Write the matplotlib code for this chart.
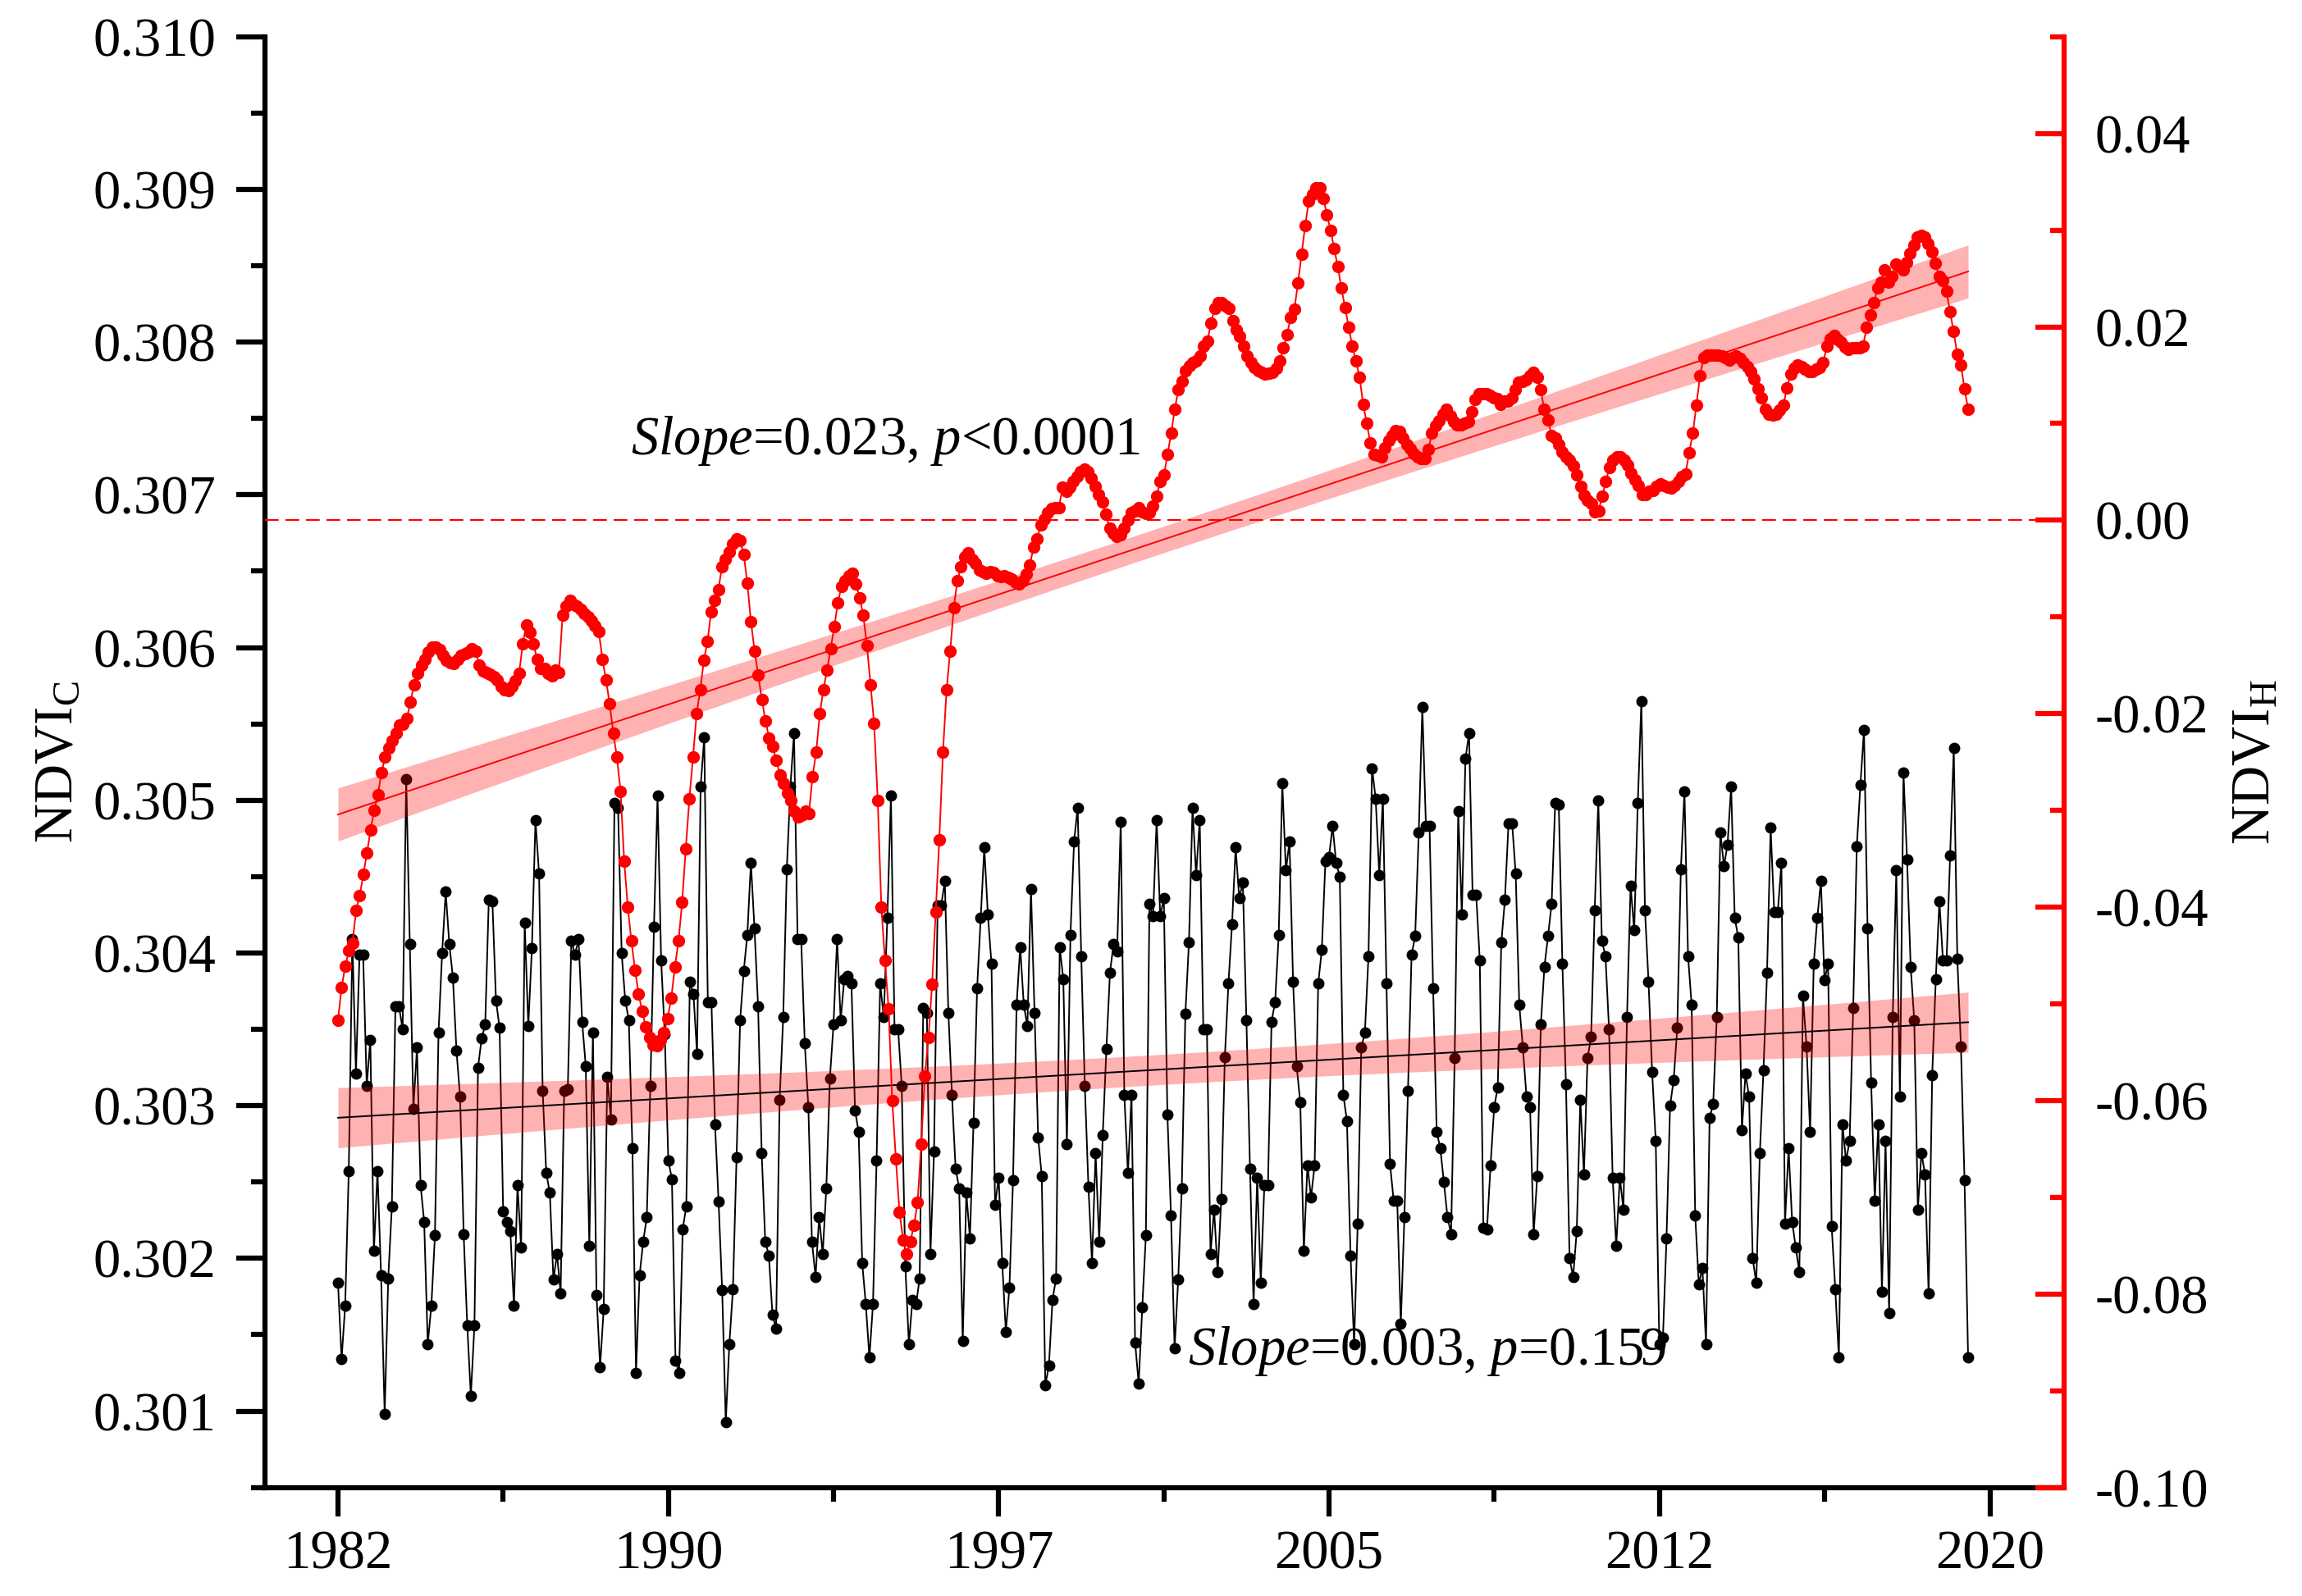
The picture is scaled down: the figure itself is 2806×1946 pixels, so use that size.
import numpy as np
import matplotlib
matplotlib.use("Agg")
import matplotlib.pyplot as plt

plt.rcParams["font.family"] = ["Liberation Serif", "DejaVu Serif"]
plt.rcParams["mathtext.fontset"] = "custom"
plt.rcParams["mathtext.rm"] = "Liberation Serif"
plt.rcParams["mathtext.it"] = "Liberation Serif:italic"
plt.rcParams["axes.unicode_minus"] = False

###  data

first_year, last_year = 1982.0, 2019.5

# NDVI_C, left axis (monthly, black)
ndvi_c = [
    0.30184, 0.30134, 0.30169, 0.30257, 0.30409, 0.30321, 0.30399, 0.30399, 0.30313, 0.30343, 0.30205, 0.30257,
    0.30189, 0.30098, 0.30187, 0.30234, 0.30365, 0.30365, 0.30350, 0.30514, 0.30406, 0.30298, 0.30338, 0.30248,
    0.30224, 0.30144, 0.30169, 0.30215, 0.30348, 0.30400, 0.30440, 0.30406, 0.30384, 0.30336, 0.30306, 0.30216,
    0.30156, 0.30110, 0.30156, 0.30325, 0.30344, 0.30353, 0.30435, 0.30434, 0.30369, 0.30351, 0.30231, 0.30224,
    0.30218, 0.30169, 0.30248, 0.30207, 0.30420, 0.30352, 0.30403, 0.30487, 0.30452, 0.30310, 0.30256, 0.30243,
    0.30186, 0.30203, 0.30177, 0.30310, 0.30311, 0.30408, 0.30399, 0.30409, 0.30355, 0.30326, 0.30208, 0.30348,
    0.30176, 0.30129, 0.30167, 0.30319, 0.30291, 0.30498, 0.30495, 0.30400,
    0.30369, 0.30356, 0.30272, 0.30125, 0.30189, 0.30211, 0.30227, 0.30313, 0.30417, 0.30503, 0.30395, 0.30347,
    0.30264, 0.30252, 0.30133, 0.30125, 0.30219, 0.30234, 0.30381, 0.30373, 0.30334, 0.30509, 0.30541, 0.30368,
    0.30368, 0.30288, 0.30237, 0.30179, 0.30093, 0.30144, 0.30180, 0.30266, 0.30356, 0.30388, 0.30412, 0.30459,
    0.30416, 0.30365, 0.30269, 0.30211, 0.30202, 0.30163, 0.30154, 0.30304, 0.30358, 0.30455, 0.30509, 0.30544,
    0.30409, 0.30409, 0.30341, 0.30299, 0.30211, 0.30188, 0.30227, 0.30203, 0.30246, 0.30318, 0.30353, 0.30409,
    0.30356, 0.30383, 0.30385, 0.30380, 0.30297, 0.30283, 0.30197, 0.30170, 0.30135, 0.30170, 0.30264, 0.30380,
    0.30358, 0.30423, 0.30503, 0.30350, 0.30350, 0.30313, 0.30195, 0.30144, 0.30173, 0.30170, 0.30187, 0.30364,
    0.30361, 0.30203, 0.30270, 0.30431, 0.30431, 0.30447, 0.30361, 0.30307, 0.30259, 0.30246, 0.30146, 0.30243,
    0.30213, 0.30289, 0.30377, 0.30423, 0.30469,
    0.30425, 0.30393, 0.30235, 0.30253, 0.30197, 0.30152, 0.30181, 0.30251, 0.30366, 0.30404, 0.30366, 0.30352,
    0.30442, 0.30361, 0.30279, 0.30254, 0.30117, 0.30130, 0.30173, 0.30187, 0.30404, 0.30383, 0.30275, 0.30412,
    0.30473, 0.30495, 0.30398, 0.30313, 0.30247, 0.30197, 0.30269, 0.30211, 0.30281, 0.30337, 0.30387, 0.30406,
    0.30401, 0.30486, 0.30307, 0.30256, 0.30307, 0.30145, 0.30118, 0.30168, 0.30215, 0.30432, 0.30424, 0.30487,
    0.30424, 0.30436, 0.30294, 0.30228, 0.30141, 0.30186, 0.30246, 0.30360, 0.30407, 0.30495, 0.30451, 0.30487,
    0.30350, 0.30350, 0.30203, 0.30232, 0.30191, 0.30239, 0.30332, 0.30380, 0.30419, 0.30469, 0.30436, 0.30446,
    0.30356, 0.30259, 0.30170, 0.30253, 0.30184, 0.30248, 0.30248, 0.30355, 0.30368, 0.30412, 0.30511, 0.30454,
    0.30473,
    0.30381, 0.30326, 0.30302, 0.30205, 0.30261, 0.30240, 0.30261, 0.30380, 0.30402, 0.30460, 0.30463, 0.30483,
    0.30459, 0.30450, 0.30307, 0.30290, 0.30202, 0.30144, 0.30223, 0.30338, 0.30348, 0.30398, 0.30521, 0.30501,
    0.30451, 0.30501, 0.30380, 0.30262, 0.30238, 0.30238, 0.30157, 0.30227, 0.30310, 0.30399, 0.30411, 0.30479,
    0.30561, 0.30483, 0.30483, 0.30377, 0.30283, 0.30272, 0.30250, 0.30227, 0.30216, 0.30331, 0.30493, 0.30425,
    0.30527, 0.30544, 0.30438, 0.30438, 0.30395, 0.30220, 0.30219, 0.30261, 0.30299, 0.30312, 0.30407, 0.30435,
    0.30485, 0.30485, 0.30452, 0.30366, 0.30338, 0.30306, 0.30299, 0.30216, 0.30254, 0.30353, 0.30391, 0.30411,
    0.30432, 0.30498, 0.30497, 0.30393, 0.30314, 0.30200, 0.30188, 0.30218, 0.30304, 0.30255, 0.30331, 0.30345,
    0.30428, 0.30500, 0.30408, 0.30398, 0.30350, 0.30253, 0.30208, 0.30253, 0.30232, 0.30358,
    0.30444, 0.30415, 0.30498, 0.30565, 0.30428, 0.30381, 0.30322, 0.30277, 0.30144, 0.30148, 0.30213, 0.30300,
    0.30317, 0.30351, 0.30455, 0.30506, 0.30398, 0.30366, 0.30228, 0.30183, 0.30194, 0.30144, 0.30292, 0.30301,
    0.30358, 0.30479, 0.30457, 0.30471, 0.30509, 0.30423, 0.30410, 0.30284, 0.30321, 0.30306, 0.30200, 0.30184,
    0.30269, 0.30323, 0.30387, 0.30482, 0.30427, 0.30427, 0.30459, 0.30223, 0.30272, 0.30224, 0.30207, 0.30191,
    0.30372, 0.30339, 0.30283, 0.30393, 0.30423, 0.30447, 0.30382, 0.30393, 0.30221, 0.30180, 0.30135, 0.30288,
    0.30264, 0.30277, 0.30364, 0.30470, 0.30510, 0.30546, 0.30416, 0.30315, 0.30238, 0.30288, 0.30178, 0.30277,
    0.30164, 0.30358, 0.30454, 0.30306, 0.30518, 0.30461, 0.30391, 0.30356, 0.30232, 0.30269, 0.30255, 0.30177,
    0.30320, 0.30383, 0.30434, 0.30395, 0.30395, 0.30464, 0.30534, 0.30396, 0.30339, 0.30251, 0.30135,
]

# NDVI_H, right axis (monthly, red), one row per year
ndvi_h = [
    -0.0517, -0.0483, -0.0461, -0.0445, -0.0437, -0.0403, -0.0388, -0.0366, -0.0344, -0.0320, -0.0300, -0.0284,
    -0.0261, -0.0245, -0.0235, -0.0228, -0.0220, -0.0212, -0.0211, -0.0205, -0.0188, -0.0170, -0.0158, -0.0150,
    -0.0144, -0.0136, -0.0131, -0.0131, -0.0134, -0.0140, -0.0145, -0.0147, -0.0148, -0.0144, -0.0140, -0.0138,
    -0.0136, -0.0133, -0.0135, -0.0150, -0.0156, -0.0157, -0.0159, -0.0162, -0.0165, -0.0172, -0.0175, -0.0176,
    -0.0172, -0.0166, -0.0158, -0.0128, -0.0108, -0.0116, -0.0128, -0.0144, -0.0153, -0.0153, -0.0158, -0.0161,
    -0.0155, -0.0157, -0.0098, -0.0089, -0.0083, -0.0087, -0.0089, -0.0092, -0.0096, -0.0100, -0.0104, -0.0109,
    -0.0115, -0.0144, -0.0165, -0.0190, -0.0220, -0.0245, -0.0280, -0.0352, -0.0400, -0.0435, -0.0465, -0.0490,
    -0.0508, -0.0524, -0.0535, -0.0542, -0.0543, -0.0537, -0.0530, -0.0515, -0.0494, -0.0462, -0.0435, -0.0395,
    -0.0340, -0.0288, -0.0245, -0.0200, -0.0175, -0.0145, -0.0125, -0.0095, -0.0083, -0.0072, -0.0048, -0.0040,
    -0.0033, -0.0024, -0.0019, -0.0021, -0.0035, -0.0065, -0.0105, -0.0135, -0.0160, -0.0185, -0.0207, -0.0225,
    -0.0234, -0.0248, -0.0263, -0.0272, -0.0282, -0.0290, -0.0301, -0.0307, -0.0305, -0.0301, -0.0303, -0.0265,
    -0.0240, -0.0200, -0.0175, -0.0155, -0.0133, -0.0110, -0.0085, -0.0068, -0.0062, -0.0057, -0.0055, -0.0066,
    -0.0080, -0.0098, -0.0129, -0.0170, -0.0210, -0.0290, -0.0400, -0.0455, -0.0505, -0.0600, -0.0660, -0.0715,
    -0.0744, -0.0759, -0.0746, -0.0729, -0.0705, -0.0645, -0.0575, -0.0535, -0.0480, -0.0405, -0.0330, -0.0240,
    -0.0175, -0.0135, -0.0090, -0.0062, -0.0048, -0.0038, -0.0034, -0.0040, -0.0045, -0.0051, -0.0053, -0.0055,
    -0.0053, -0.0054, -0.0057, -0.0058, -0.0057, -0.0059, -0.0061, -0.0064, -0.0066, -0.0062, -0.0056, -0.0046,
    -0.0028, -0.0019, -0.0005, 0.0001, 0.0008, 0.0012, 0.0013, 0.0013, 0.0034, 0.0030, 0.0034, 0.0040,
    0.0045, 0.0050, 0.0053, 0.0050, 0.0044, 0.0035, 0.0027, 0.0019, 0.0006, -0.0008, -0.0013, -0.0017,
    -0.0015, -0.0008, 0.0000, 0.0008, 0.0010, 0.0013, 0.0009, 0.0007, 0.0008, 0.0015, 0.0025, 0.0040,
    0.0047, 0.0068, 0.0090, 0.0115, 0.0135, 0.0144, 0.0155, 0.0160, 0.0163, 0.0165, 0.0170, 0.0180,
    0.0185, 0.0204, 0.0219, 0.0225, 0.0225, 0.0222, 0.0219, 0.0206, 0.0197, 0.0190, 0.0180, 0.0170,
    0.0163, 0.0158, 0.0155, 0.0153, 0.0151, 0.0152, 0.0153, 0.0157, 0.0165, 0.0178, 0.0192, 0.0210,
    0.0218, 0.0245, 0.0275, 0.0305, 0.0330, 0.0337, 0.0344, 0.0344, 0.0333, 0.0316, 0.0300, 0.0281,
    0.0262, 0.0240, 0.0220, 0.0200, 0.0180, 0.0165, 0.0148, 0.0120, 0.0100, 0.0080, 0.0068, 0.0067,
    0.0066, 0.0075, 0.0083, 0.0088, 0.0093, 0.0092, 0.0085, 0.0078, 0.0074, 0.0069, 0.0066, 0.0064,
    0.0064, 0.0073, 0.0090, 0.0098, 0.0103, 0.0110, 0.0115, 0.0108, 0.0102, 0.0099, 0.0099, 0.0100,
    0.0102, 0.0112, 0.0125, 0.0131, 0.0131, 0.0131, 0.0129, 0.0127, 0.0126, 0.0120, 0.0123, 0.0123,
    0.0127, 0.0135, 0.0143, 0.0144, 0.0145, 0.0150, 0.0153, 0.0148, 0.0135, 0.0115, 0.0104, 0.0088,
    0.0085, 0.0078, 0.0071, 0.0066, 0.0062, 0.0056, 0.0047, 0.0035, 0.0026, 0.0021, 0.0017, 0.0009,
    0.0010, 0.0025, 0.0040, 0.0055, 0.0062, 0.0066, 0.0066, 0.0062, 0.0057, 0.0049, 0.0042, 0.0036,
    0.0027, 0.0027, 0.0030, 0.0031, 0.0035, 0.0038, 0.0036, 0.0034, 0.0033, 0.0036, 0.0040, 0.0045,
    0.0048, 0.0070, 0.0090, 0.0119, 0.0150, 0.0168, 0.0171, 0.0171, 0.0171, 0.0171, 0.0170, 0.0168,
    0.0166, 0.0168, 0.0170, 0.0167, 0.0163, 0.0159, 0.0154, 0.0146, 0.0136, 0.0127, 0.0115, 0.0110,
    0.0109, 0.0110, 0.0114, 0.0119, 0.0137, 0.0151, 0.0157, 0.0161, 0.0159, 0.0156, 0.0154, 0.0154,
    0.0156, 0.0158, 0.0163, 0.0180, 0.0188, 0.0191, 0.0187, 0.0184, 0.0179, 0.0177, 0.0178, 0.0178,
    0.0178, 0.0180, 0.0200, 0.0212, 0.0225, 0.0240, 0.0246, 0.0259, 0.0246, 0.0252, 0.0265, 0.0262,
    0.0259, 0.0267, 0.0276, 0.0284, 0.0293, 0.0295, 0.0293, 0.0286, 0.0278, 0.0266, 0.0252, 0.0248,
    0.0237, 0.0216, 0.0195, 0.0172, 0.0161, 0.0136, 0.0115,
]

year_ticks = [1982.0, 1989.6, 1997.2, 2004.8, 2012.4, 2020.0]
year_labels = ["1982", "1990", "1997", "2005", "2012", "2020"]

text_h = r"$\mathit{Slope}$=0.023, $\mathit{p}$<0.0001"
text_c = r"$\mathit{Slope}$=0.003, $\mathit{p}$=0.159"

###

def linear_fit(x, y):

  # Least-squares line plus a 95% confidence band of the mean.

    n = len(x)
    slope, intercept = np.polyfit(x, y, 1)
    fit = intercept + slope * x
    s = np.sqrt(np.sum((y - fit) ** 2) / (n - 2))
    dx = x - x.mean()
    half = 1.96 * s * np.sqrt(1.0 / n + dx ** 2 / np.sum(dx ** 2))
    return fit, half

###

def main():

    yc = np.array(ndvi_c)
    yh = np.array(ndvi_h)
    xc = np.linspace(first_year, last_year, len(yc))
    xh = np.linspace(first_year, last_year, len(yh))

    fig = plt.figure(figsize=(28.06, 19.46), dpi=100)
    ax = fig.add_axes([0.1151, 0.068, 0.8965 - 0.1151, 0.977 - 0.068])

  # Left axis: NDVI_C with its trend.

    ax.plot(xc, yc, "-o", color="black", lw=1.4, ms=9, zorder=2)
    fit_c, half_c = linear_fit(xc, yc)
    ax.fill_between(xc, fit_c - half_c, fit_c + half_c, color="red",
                    alpha=0.3, lw=0, zorder=3)
    ax.plot(xc, fit_c, color="black", lw=1.4, zorder=4)

    ax.set_xlim(1980.32, 2021.70)
    ax.set_ylim(0.3005, 0.3100)
    ax.set_xticks(year_ticks)
    ax.set_xticklabels(year_labels)
    ax.set_xticks([(a + b) / 2 for a, b in zip(year_ticks[:-1], year_ticks[1:])],
                  minor=True)
    ax.set_yticks(np.round(np.arange(0.301, 0.3101, 0.001), 3))
    ax.set_yticks(np.round(np.arange(0.3005, 0.3100, 0.001), 4), minor=True)
    ax.yaxis.set_major_formatter(plt.FormatStrFormatter("%.3f"))

    ax.tick_params(axis="y", which="both", direction="out", width=4.5,
                   labelsize=48, pad=18)
    ax.tick_params(axis="x", which="both", direction="out", width=4.5,
                   labelsize=48, pad=12)
    ax.tick_params(which="major", length=25)
    ax.tick_params(which="minor", length=12)

    for side in ["top", "right"]:
        ax.spines[side].set_visible(False)
    for side in ["left", "bottom"]:
        ax.spines[side].set_linewidth(4.5)

    ax.set_ylabel(r"NDVI$_\mathregular{C}$", fontsize=48)
    ax.yaxis.set_label_coords(-0.101, 0.5)
    ax.text(0.513, 0.094, text_c, transform=ax.transAxes, fontsize=48,
            ha="left", va="center", zorder=5)

  # Right axis: NDVI_H with its trend.

    ax2 = ax.twinx()
    ax2.axhline(0.0, color="red", lw=1.5, ls=(0, (8, 4)), zorder=1)
    ax2.plot(xh, yh, "-o", color="red", lw=1.4, ms=10, zorder=2)
    fit_h, half_h = linear_fit(xh, yh)
    ax2.fill_between(xh, fit_h - half_h, fit_h + half_h, color="red",
                     alpha=0.3, lw=0, zorder=3)
    ax2.plot(xh, fit_h, color="red", lw=1.4, zorder=4)

    ax2.set_ylim(-0.10, 0.05)
    ax2.set_yticks(np.round(np.arange(-0.10, 0.041, 0.02), 2))
    ax2.set_yticks(np.round(np.arange(-0.09, 0.051, 0.02), 2), minor=True)
    ax2.yaxis.set_major_formatter(plt.FuncFormatter(
        lambda v, pos: "%.2f" % (0.0 if abs(v) < 1e-9 else v)))
    ax2.tick_params(axis="y", which="both", direction="in", width=4.5,
                    color="red", labelcolor="black", labelsize=48, pad=27)
    ax2.tick_params(axis="y", which="major", length=25)
    ax2.tick_params(axis="y", which="minor", length=12)

    for side in ["top", "left", "bottom"]:
        ax2.spines[side].set_visible(False)
    ax2.spines["right"].set_color("red")
    ax2.spines["right"].set_linewidth(4.5)

    ax2.set_ylabel(r"NDVI$_\mathregular{H}$", fontsize=48, rotation=90)
    ax2.yaxis.set_label_coords(1.093, 0.5)
    ax2.text(0.2036, 0.7217, text_h, transform=ax.transAxes, fontsize=48,
             ha="left", va="center", zorder=5)

    fig.savefig("out.png", dpi=100)

###

if __name__ == "__main__":
    main()
